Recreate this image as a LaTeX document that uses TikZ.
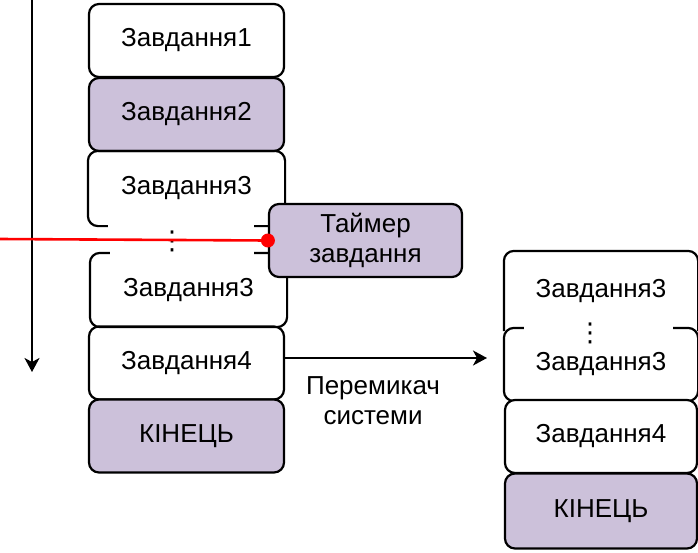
\documentclass[tikz,border=0pt]{standalone}
\usepackage{fontspec}
\setmainfont{Liberation Sans}
\newfontfamily\dotsfont{DejaVu Sans}
\usetikzlibrary{arrows.meta}
\definecolor{lilac}{HTML}{CCC1DA}

\begin{document}
\begin{tikzpicture}[x=1pt, y=-1pt, line width=2.2pt,
    txt/.style={font=\fontsize{26}{30}\selectfont, align=center, inner sep=0pt},
    task/.style={txt, rounded corners=10pt, minimum width=195pt, minimum height=73pt},
    box/.style={task, draw, fill=white},
    busy/.style={task, draw, fill=lilac},
    gap/.style={font=\dotsfont\fontsize{26}{30}\selectfont, inner sep=0pt},
    arr/.style={line width=2pt, -{Stealth[length=14pt, width=15pt, inset=4pt]}}]
    \useasboundingbox (0,0) rectangle (698,552);

    % Zeitachse
    \coordinate (ttop) at (32,0);
    \coordinate (tbot) at (32,372);
    \draw[arr] (ttop) -- (tbot);

    % Stapel links
    \node[box]  (t1)  at (186.5,40.5)  {Завдання1};
    \node[busy] (t2)  at (186.5,114.5) {Завдання2};
    \node[task] (t3a) at (186.5,188.5) {Завдання3};
    \node[task, minimum height=72pt] (t3b) at (188.5,290) {Завдання3};
    \node[box]  (t4)  at (186.5,363)   {Завдання4};
    \node[busy] (end) at (186.5,436)   {КІНЕЦЬ};
    \draw[rounded corners=10pt] ([xshift=20pt]t3a.south west) -- (t3a.south west)
        -- (t3a.north west) -- (t3a.north east) -- (t3a.south east)
        -- ([xshift=-31pt]t3a.south east);
    \draw[rounded corners=10pt] ([xshift=20pt]t3b.north west) -- (t3b.north west)
        -- (t3b.south west) -- (t3b.south east) -- (t3b.north east)
        -- ([xshift=-33pt]t3b.north east);
    \node[gap] (dots) at (172,241) {⋮};

    % Unterbrechung
    \coordinate (irq) at (0,239);
    \node[busy, minimum width=193pt] (timer) at (365.5,240.5) {Таймер\\завдання};
    \draw[red, line width=2.6pt] (irq) -- (timer.west);
    \fill[red] (timer.west) circle (7pt);

    % Umschaltung
    \coordinate (swend) at (487,358);
    \draw[arr] ([yshift=5pt]t4.east) -- (swend);
    \node[txt] (swlabel) at (373,401) {Перемикач\\системи};

    % Stapel rechts
    \node[task, minimum width=192pt, minimum height=78pt] (r1) at (601,291) {Завдання3};
    \node[task, minimum width=192pt, minimum height=71pt] (r2) at (601,364.5) {Завдання3};
    \draw[rounded corners=10pt] (r1.south west) -- (r1.north west)
        -- (r1.north east) -- (r1.south east);
    \draw[rounded corners=10pt] ([xshift=20pt]r2.north west) -- (r2.north west)
        -- (r2.south west) -- (r2.south east) -- (r2.north east)
        -- ([xshift=-25pt]r2.north east);
    \node[box, minimum width=192pt] (r3) at (601,436.5) {Завдання4};
    \node[busy, minimum width=192pt, minimum height=75pt] (r4) at (601,511) {КІНЕЦЬ};
    \node[gap] (rdots) at (590,333) {⋮};
\end{tikzpicture}
\end{document}
